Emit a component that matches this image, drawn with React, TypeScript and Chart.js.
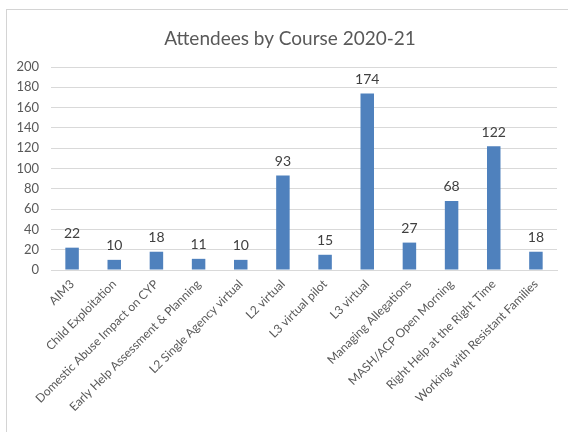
import React, { useEffect, useRef } from "react";
import { Chart, registerables } from "chart.js";

Chart.register(...registerables);

const TITLE = "Attendees by Course 2020-21";
const categories = [
  "AIM3",
  "Child Exploitation",
  "Domestic Abuse Impact on CYP",
  "Early Help Assessment & Planning",
  "L2 Single Agency virtual",
  "L2 virtual",
  "L3 virtual pilot",
  "L3 virtual",
  "Managing Allegations",
  "MASH/ACP Open Morning",
  "Right Help at the Right Time",
  "Working with Resistant Families",
];
const attendees = [22, 10, 18, 11, 10, 93, 15, 174, 27, 68, 122, 18];
const yTicks = [0, 20, 40, 60, 80, 100, 120, 140, 160, 180, 200];

const FONT = "Lato, 'Open Sans', sans-serif";
const TEXT = "#595959";

const valueLabels = {
  id: "valueLabels",
  afterDatasetsDraw(chart: any) {
    const ctx = chart.ctx;
    const meta = chart.getDatasetMeta(0);
    ctx.save();
    ctx.font = `14px ${FONT}`;
    ctx.fillStyle = "#404040";
    ctx.textAlign = "center";
    ctx.textBaseline = "bottom";
    meta.data.forEach((bar: any, i: number) => {
      ctx.fillText(String(chart.data.datasets[0].data[i]), bar.x, bar.y - 7);
    });
    ctx.restore();
  },
};

const titlePlugin = {
  id: "customTitle",
  afterDraw(chart: any) {
    const ctx = chart.ctx;
    ctx.save();
    ctx.font = `19px ${FONT}`;
    ctx.fillStyle = TEXT;
    ctx.textAlign = "center";
    ctx.textBaseline = "middle";
    ctx.fillText(TITLE, 290, 39);
    ctx.restore();
  },
};

export default function App() {
  const ref = useRef<HTMLCanvasElement>(null);
  useEffect(() => {
    if (!ref.current) return;
    const chart = new Chart(ref.current, {
      type: "bar",
      data: {
        labels: categories,
        datasets: [
          {
            data: attendees,
            backgroundColor: "#4F81BD",
            borderWidth: 0,
            barPercentage: 0.64,
            categoryPercentage: 0.5,
          },
        ],
      },
      plugins: [valueLabels, titlePlugin],
      options: {
        responsive: false,
        animation: false,
        layout: { padding: { left: 0, right: 11, top: 67, bottom: 0 } },
        plugins: {
          legend: { display: false },
          title: { display: false },
          tooltip: { enabled: false },
        },
        scales: {
          x: {
            afterFit(scale: any) {
              scale.height = 162;
            },
            grid: { display: false, drawTicks: false },
            border: { display: true, color: "#d9d9d9", width: 1 },
            ticks: {
              minRotation: 45,
              maxRotation: 45,
              autoSkip: false,
              padding: 7,
              color: TEXT,
              font: { family: FONT, size: 12 },
            },
          },
          y: {
            min: 0,
            max: 200,
            afterFit(scale: any) {
              scale.width = 51;
            },
            afterBuildTicks(scale: any) {
              scale.ticks = yTicks.map((v) => ({ value: v }));
            },
            grid: { color: "#d9d9d9", drawTicks: false },
            border: { display: false },
            ticks: {
              padding: 12,
              color: TEXT,
              font: { family: FONT, size: 13 },
            },
          },
        },
      },
    });
    return () => chart.destroy();
  }, []);
  return (
    <div
      style={{
        position: "absolute",
        left: 0,
        top: 0,
        width: 568,
        height: 432,
        overflow: "hidden",
        background: "#fff",
      }}
    >
      <div
        style={{
          position: "absolute",
          left: 6,
          top: 9,
          width: 700,
          height: 600,
          borderLeft: "1px solid #d4d4d4",
          borderTop: "1px solid #d4d4d4",
        }}
      />
      <canvas
        ref={ref}
        width={568}
        height={432}
        style={{ position: "absolute", left: 0, top: 0 }}
      />
    </div>
  );
}
